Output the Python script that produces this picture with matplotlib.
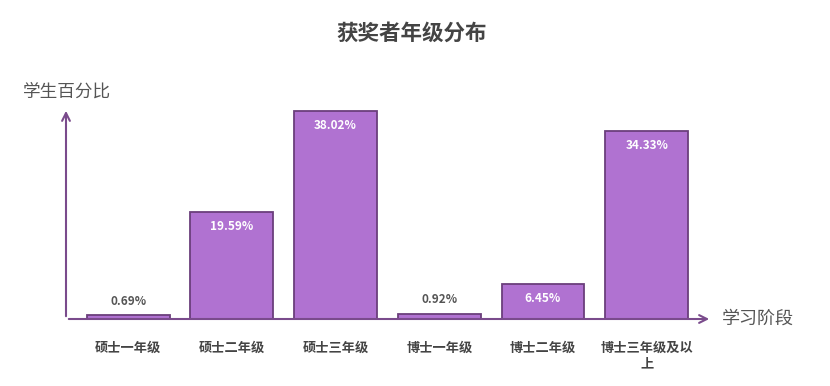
import matplotlib
matplotlib.use("Agg")
import matplotlib.pyplot as plt

plt.rcParams['font.family'] = ['Noto Sans CJK SC', 'DejaVu Sans']

categories = ["硕士一年级", "硕士二年级", "硕士三年级", "博士一年级", "博士二年级", "博士三年级及以\n上"]
values = [0.69, 19.59, 38.02, 0.92, 6.45, 34.33]
value_labels = ["0.69%", "19.59%", "38.02%", "0.92%", "6.45%", "34.33%"]

W, H = 830, 386
fig = plt.figure(figsize=(W / 100, H / 100), dpi=100)
left, right, bottom, top = 66, 712, 319, 108
ax = fig.add_axes([left / W, 1 - bottom / H, (right - left) / W, (bottom - top) / H])

bar_color = "#b072d1"
edge_color = "#6b3f7c"
axis_color = "#7a4b8c"

x = list(range(len(categories)))
ax.bar(x, values, width=0.8, color=bar_color, edgecolor=edge_color, linewidth=1.3, zorder=2)
ax.set_xlim(-0.6, 5.63)
ax.set_ylim(0, (bottom - top) / 5.47)

for xi, v, lab in zip(x, values, value_labels):
    if v > 4:
        ax.text(xi, v - 1.5, lab, ha="center", va="top", color="white", fontsize=8.5,
                fontweight="bold", zorder=3)
    else:
        ax.text(xi, v + 1.4, lab, ha="center", va="bottom", color="#555555", fontsize=8.5,
                fontweight="bold", zorder=3)

for s in ax.spines.values():
    s.set_visible(False)
ax.set_yticks([])
ax.set_xticks(x)
ax.set_xticklabels(categories, fontsize=9.5, fontweight="bold", color="#444444", linespacing=1.1)
ax.tick_params(axis="x", length=0, pad=16)
for t in ax.get_xticklabels():
    t.set_verticalalignment("top")

# axes arrows
ax.annotate("", xy=(1.0, 0), xytext=(0, 0), xycoords="axes fraction",
            arrowprops=dict(arrowstyle="->", color=axis_color, lw=1.5, mutation_scale=14),
            annotation_clip=False, zorder=4)
ax.annotate("", xy=(0, 1.0), xytext=(0, 0), xycoords="axes fraction",
            arrowprops=dict(arrowstyle="->", color=axis_color, lw=1.5, mutation_scale=14),
            annotation_clip=False, zorder=4)

fig.text(412 / W, 1 - 33 / H, "获奖者年级分布", ha="center", va="center", fontsize=15.5,
         fontweight="bold", color="#444444")
fig.text(23 / W, 1 - 92 / H, "学生百分比", ha="left", va="center", fontsize=12.7, color="#555555")
fig.text(722 / W, 1 - 319 / H, "学习阶段", ha="left", va="center", fontsize=13, color="#555555")

fig.savefig("out.png", dpi=100, facecolor="white")
